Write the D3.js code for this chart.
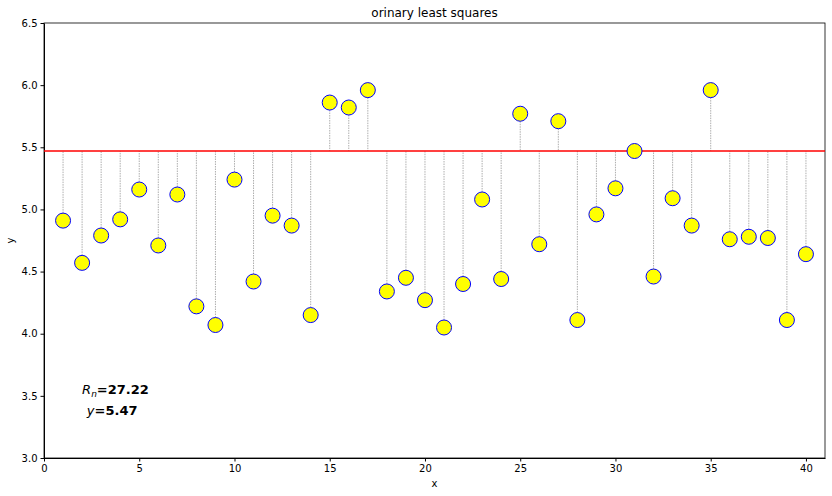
<!DOCTYPE html>
<html>
<head>
<script src="https://cdnjs.cloudflare.com/ajax/libs/d3/7.8.5/d3.min.js"></script>
<style>
body { margin: 0; background: #fff; font-family: "DejaVu Sans", sans-serif; }
</style>
</head>
<body>
<div id="chart"></div>
<script>
const xs = d3.range(1, 41);
const ys = [4.91, 4.57, 4.79, 4.92, 5.16, 4.71, 5.12, 4.22, 4.07, 5.24,
            4.42, 4.95, 4.87, 4.15, 5.86, 5.82, 5.96, 4.34, 4.45, 4.27,
            4.05, 4.40, 5.08, 4.44, 5.77, 4.72, 5.71, 4.11, 4.96, 5.17,
            5.47, 4.46, 5.09, 4.87, 5.96, 4.76, 4.78, 4.77, 4.11, 4.64];
const meanY = 5.47;
const rn = "27.22";
const xTicks = [0, 5, 10, 15, 20, 25, 30, 35, 40];
const yTicks = [3.0, 3.5, 4.0, 4.5, 5.0, 5.5, 6.0, 6.5];

const width = 832, height = 496;
const m = {left: 44, right: 7, top: 23, bottom: 38};

const svg = d3.select("#chart").append("svg")
  .attr("width", width).attr("height", height);

const x = d3.scaleLinear().domain([0, 41]).range([m.left, width - m.right]);
const y = d3.scaleLinear().domain([3.0, 6.5]).range([height - m.bottom, m.top]);

// axes
svg.append("g")
  .attr("transform", `translate(0,${height - m.bottom})`)
  .call(d3.axisBottom(x).tickValues(xTicks).tickSize(3.5).tickSizeOuter(0))
  .call(g => g.selectAll("text").attr("font-size", 10).attr("font-family", "DejaVu Sans"));
svg.append("g")
  .attr("transform", `translate(${m.left},0)`)
  .call(d3.axisLeft(y).tickValues(yTicks).tickFormat(d3.format(".1f")).tickSize(3.5).tickSizeOuter(0))
  .call(g => g.selectAll("text").attr("font-size", 10).attr("font-family", "DejaVu Sans"));

// frame
svg.append("rect")
  .attr("x", m.left).attr("y", m.top)
  .attr("width", width - m.left - m.right).attr("height", height - m.top - m.bottom)
  .attr("fill", "none").attr("stroke", "#000").attr("stroke-width", 0.8);

// stems
svg.append("g").selectAll("line").data(xs).join("line")
  .attr("x1", d => x(d)).attr("x2", d => x(d))
  .attr("y1", (d, i) => y(ys[i])).attr("y2", y(meanY))
  .attr("stroke", "#777").attr("stroke-width", 0.6).attr("stroke-dasharray", "1.5,1");

// mean line
svg.append("line")
  .attr("x1", m.left).attr("x2", width - m.right)
  .attr("y1", y(meanY)).attr("y2", y(meanY))
  .attr("stroke", "red").attr("stroke-width", 1.6);

// points
svg.append("g").selectAll("circle").data(xs).join("circle")
  .attr("cx", d => x(d)).attr("cy", (d, i) => y(ys[i]))
  .attr("r", 7.5).attr("fill", "yellow").attr("stroke", "blue").attr("stroke-width", 1);

// annotations
const t1 = svg.append("text").attr("x", x(2)).attr("y", y(3.5) - 2)
  .attr("font-size", 13).attr("font-family", "DejaVu Sans");
t1.append("tspan").attr("font-style", "italic").text("R");
t1.append("tspan").attr("font-style", "italic").attr("font-size", 9).attr("dy", 3).text("n");
t1.append("tspan").attr("dy", -3).attr("font-weight", "bold").text("=" + rn);

const t2 = svg.append("text").attr("x", x(2.25)).attr("y", y(3.35))
  .attr("font-size", 13).attr("font-family", "DejaVu Sans");
t2.append("tspan").attr("font-style", "italic").text("y");
t2.append("tspan").attr("font-weight", "bold").text("=" + meanY.toFixed(2));

// labels
svg.append("text").attr("x", (m.left + width - m.right) / 2).attr("y", 17)
  .attr("text-anchor", "middle").attr("font-size", 12).text("orinary least squares");
svg.append("text").attr("x", (m.left + width - m.right) / 2).attr("y", 487)
  .attr("text-anchor", "middle").attr("font-size", 10).text("x");
svg.append("text").attr("transform", `translate(14,${(m.top + height - m.bottom) / 2}) rotate(-90)`)
  .attr("text-anchor", "middle").attr("font-size", 10).text("y");
</script>
</body>
</html>
